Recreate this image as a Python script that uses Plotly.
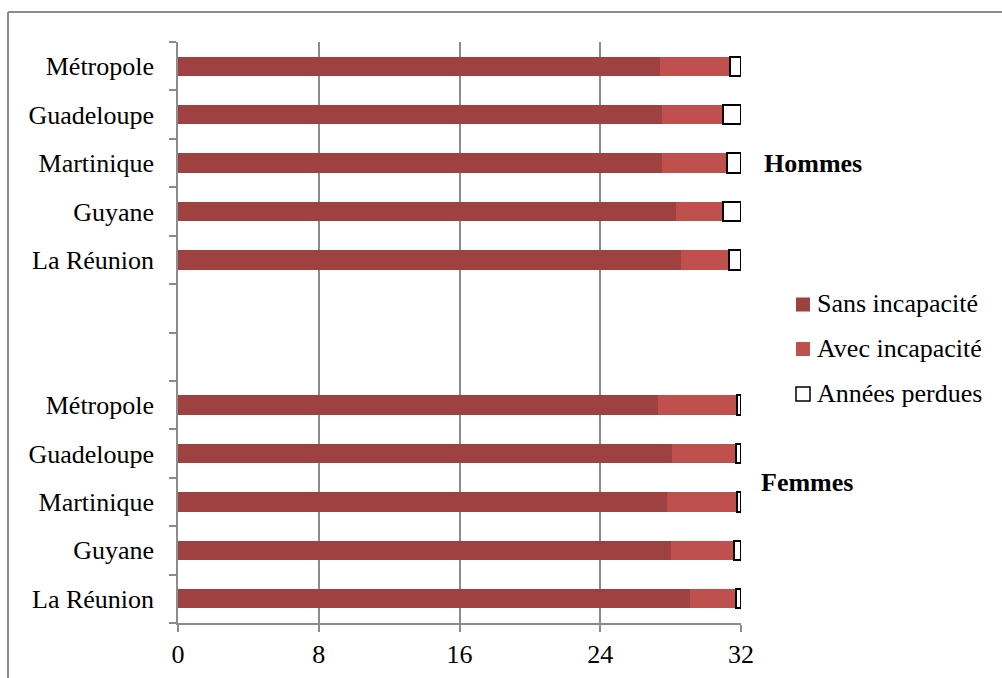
import plotly.graph_objects as go

# Rows from top to bottom: men block, two blank spacer rows, women block
row_labels = ["Métropole", "Guadeloupe", "Martinique", "Guyane", "La Réunion",
              "", "",
              "Métropole", "Guadeloupe", "Martinique", "Guyane", "La Réunion"]

sans_incapacite = [27.4, 27.5, 27.5, 28.3, 28.6, None, None,
                   27.3, 28.1, 27.8, 28.0, 29.1]
avec_incapacite = [4.0, 3.5, 3.7, 2.7, 2.7, None, None,
                   4.5, 3.6, 4.0, 3.6, 2.6]
annees_perdues = [0.6, 1.0, 0.8, 1.0, 0.7, None, None,
                  0.2, 0.3, 0.2, 0.4, 0.3]

series_names = ["Sans incapacité", "Avec incapacité", "Années perdues"]
series_fill = ["#9e4140", "#c0504d", "white"]
series_edge = [None, None, "black"]

x_ticks = [0, 8, 16, 24, 32]

FONT = "Liberation Serif"
GRID = "#8c8c8c"

positions = list(range(len(row_labels)))

fig = go.Figure()
for name, vals, fill, edge in zip(series_names,
                                  [sans_incapacite, avec_incapacite, annees_perdues],
                                  series_fill, series_edge):
    fig.add_trace(go.Bar(
        y=positions, x=vals, orientation="h", name=name,
        marker=dict(color=fill,
                    line=dict(color=edge or fill, width=2 if edge else 0)),
        cliponaxis=False,
    ))

L, R, T, B = 178, 261, 42, 55
W, H = 1002, 678
pw, ph = W - L - R, H - T - B


def px_x(px):
    return (px - L) / pw


def px_y(py):
    return (H - B - py) / ph


text_font = dict(family=FONT, size=26, color="black")
legend_font = dict(family="Times New Roman, Liberation Serif, serif", size=26,
                   color="black")

fig.update_layout(
    width=W, height=H,
    margin=dict(l=L, r=R, t=T, b=B, autoexpand=False),
    barmode="stack",
    bargap=0.6,
    plot_bgcolor="white",
    paper_bgcolor="white",
    font=text_font,
    showlegend=False,
    xaxis=dict(
        range=[0, 32], tickvals=x_ticks, ticktext=[str(v) for v in x_ticks],
        showgrid=True, gridcolor=GRID, gridwidth=1.5,
        showline=True, linecolor=GRID, linewidth=1.5,
        ticks="outside", ticklen=7, tickcolor=GRID, tickwidth=1.5,
        zeroline=False, tickfont=text_font,
    ),
    yaxis=dict(
        range=[len(row_labels) - 0.5, -0.5],
        tickvals=positions, ticktext=row_labels,
        ticks="", showgrid=False, zeroline=False,
        showline=True, linecolor=GRID, linewidth=1.5,
        ticklabelstandoff=17,
        minor=dict(tickvals=[i - 0.5 for i in range(len(row_labels) + 1)],
                   ticks="outside", ticklen=7, tickcolor=GRID, tickwidth=1.5,
                   showgrid=False),
        tickfont=text_font,
    ),
)

# Legend: swatch + label for each series
legend_rows = [304.5, 349, 394]
for name, fill, edge, cy in zip(series_names, series_fill, series_edge, legend_rows):
    fig.add_shape(type="rect", xref="paper", yref="paper",
                  x0=px_x(796), x1=px_x(810), y0=px_y(cy - 7), y1=px_y(cy + 7),
                  fillcolor=fill,
                  line=dict(color=edge or fill, width=1.5 if edge else 0))
    fig.add_annotation(text=name, x=px_x(815), y=px_y(cy - 1),
                       xref="paper", yref="paper", xanchor="left", yanchor="middle",
                       showarrow=False, font=legend_font)

fig.add_annotation(text="<b>Hommes</b>", x=px_x(762), y=2, xref="paper", yref="y",
                   xanchor="left", yanchor="middle", showarrow=False, font=text_font)
fig.add_annotation(text="<b>Femmes</b>", x=px_x(759), y=8.6, xref="paper", yref="y",
                   xanchor="left", yanchor="middle", showarrow=False, font=text_font)

# Chart frame (top and left edges)
fig.add_shape(type="line", xref="paper", yref="paper",
              x0=px_x(8), x1=px_x(1002), y0=px_y(12), y1=px_y(12),
              line=dict(color=GRID, width=2))
fig.add_shape(type="line", xref="paper", yref="paper",
              x0=px_x(8), x1=px_x(8), y0=px_y(12), y1=px_y(678),
              line=dict(color=GRID, width=2))

fig.write_html("out.html")
